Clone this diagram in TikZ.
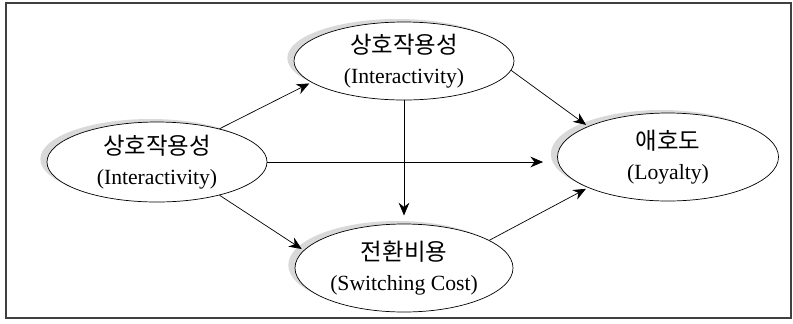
\documentclass[tikz,border=0pt]{standalone}
\usepackage{fontspec}
\setmainfont{Liberation Serif}
\newfontfamily\kr{Noto Sans CJK KR}
\usetikzlibrary{positioning, arrows.meta, shapes.geometric, shadows}

\newcommand{\krline}[1]{{\fontsize{20}{25}\selectfont\kr #1}}

\begin{document}
\begin{tikzpicture}[
        x=0.03cm,
        y=-0.03cm,
        construct/.style={
            ellipse,
            draw,
            fill=white,
            line width=0.6pt,
            minimum width=6.6cm,
            minimum height=2.4cm,
            inner sep=0pt,
            align=center,
            font=\fontsize{18.5}{25}\selectfont,
            general shadow={
                fill=gray!30,
                shadow xshift=-0.2cm,
                shadow yshift=0.09cm
            }
        },
        effect/.style={
            -{Stealth[length=0.38cm, width=0.32cm]},
            line width=0.6pt,
            shorten >=2pt
        }
    ]

    % --------------------------------------------------------
    % Frame
    % --------------------------------------------------------

    \useasboundingbox
    (0,0)
    rectangle (793,323);

    \draw[
        black!75,
        line width=1.1pt
    ]
    (6,3)
    rectangle (791,318);

    % --------------------------------------------------------
    % Constructs
    % --------------------------------------------------------

    \node[
        construct
    ]
    (inter)
    at (157,162)
    {\krline{상호작용성}\\(Interactivity)};

    \node[
        construct,
        minimum height=2.34cm
    ]
    (interup)
    at (404,61)
    {\krline{상호작용성}\\(Interactivity)};

    \node[
        construct,
        minimum width=6.54cm,
        minimum height=2.64cm
    ]
    (switching)
    at (404,268)
    {\krline{전환비용}\\(Switching Cost)};

    \node[
        construct,
        minimum width=6.63cm,
        minimum height=2.64cm
    ]
    (loyalty)
    at (668,157)
    {\krline{애호도}\\(Loyalty)};

    % --------------------------------------------------------
    % Paths
    % --------------------------------------------------------

    \draw[
        effect
    ]
    (inter.28)
    -- (interup.193);

    \draw[
        effect
    ]
    (inter.-28)
    -- (switching.170);

    \draw[
        effect,
        shorten >=12pt
    ]
    (inter.east)
    -- (inter.east -| loyalty.west);

    \draw[
        effect,
        shorten >=7pt
    ]
    (interup.south)
    -- (switching.north);

    \draw[
        effect
    ]
    (interup.-5)
    -- (loyalty.159);

    \draw[
        effect
    ]
    (switching.18)
    -- (loyalty.201);

\end{tikzpicture}
\end{document}
